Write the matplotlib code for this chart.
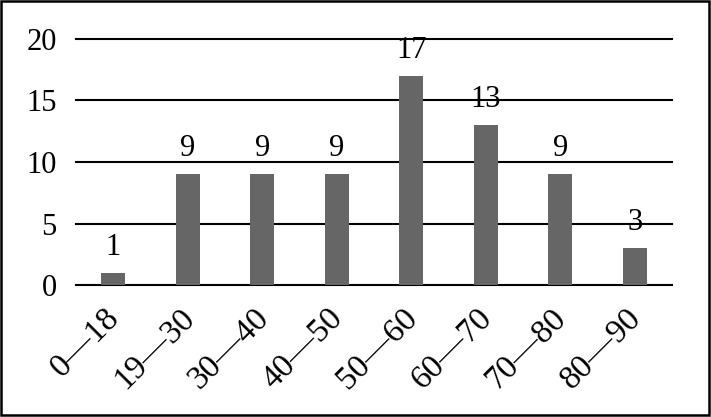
import matplotlib
matplotlib.use('Agg')
import matplotlib.pyplot as plt
from matplotlib.patches import Rectangle
from matplotlib.transforms import ScaledTranslation

# age groups and counts
categories = ["0\u201418", "19\u201430", "30\u201440", "40\u201450",
              "50\u201460", "60\u201470", "70\u201480", "80\u201490"]
counts = [1, 9, 9, 9, 17, 13, 9, 3]
yticks = [0, 5, 10, 15, 20]

plt.rcParams['font.family'] = ['Liberation Serif', 'DejaVu Serif']

fig = plt.figure(figsize=(7.11, 4.17), dpi=100)
ax = fig.add_axes([0.107, 0.3165, 0.838, 0.59])

x = range(len(categories))
bars = ax.bar(x, counts, width=0.32, color='#666666', zorder=3)

for b, v in zip(bars, counts):
    ax.annotate(str(v), (b.get_x() + b.get_width() / 2, v),
                xytext=(0, 8), textcoords='offset points',
                ha='center', va='bottom', fontsize=22)

ax.set_xlim(-0.5, len(categories) - 0.5)
ax.set_ylim(0, 20)
ax.set_yticks(yticks)
ax.set_yticklabels([str(t) for t in yticks], fontsize=22)
ax.yaxis.grid(True, color='black', linewidth=1.5, zorder=1)
for gl in ax.get_ygridlines():
    gl.set_clip_on(False)
ax.set_xticks(list(x))
ax.tick_params(axis='both', length=0)
ax.tick_params(axis='y', pad=14)
ax.tick_params(axis='x', pad=10)
ax.set_xticklabels(categories, fontsize=24, rotation=45,
                   ha='right', va='top', rotation_mode='anchor')
for s in ax.spines.values():
    s.set_visible(False)

# nudge the rotated labels left a little
shift = ScaledTranslation(-9 / 100, -4 / 100, fig.dpi_scale_trans)
for lbl in ax.get_xticklabels():
    lbl.set_transform(lbl.get_transform() + shift)

# outer frame
fig.add_artist(Rectangle((0.002, 0.004), 0.995, 0.993, transform=fig.transFigure,
                         fill=False, edgecolor='black', linewidth=1.8))

fig.savefig('out.png', dpi=100)
